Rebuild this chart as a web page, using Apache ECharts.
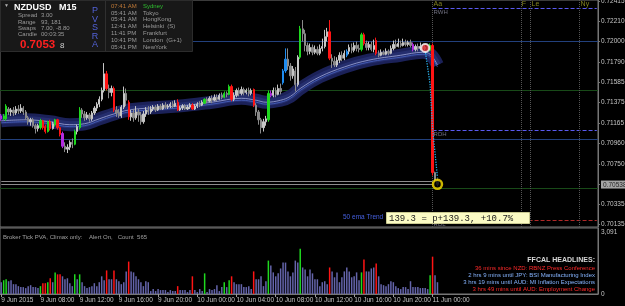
<!DOCTYPE html>
<html>
<head>
<meta charset="utf-8">
<script src="https://cdn.jsdelivr.net/npm/echarts@6/dist/echarts.min.js"></script>
<style>
html, body { margin: 0; padding: 0; background: #000; }
#container { width: 625px; height: 306px; }
</style>
</head>
<body>
<div id="container"></div>
<script>
// prices are in pips (x 0.0001)
var tickLabels = ['9 Jun 2015', '9 Jun 08:00', '9 Jun 12:00', '9 Jun 16:00', '9 Jun 20:00', '10 Jun 00:00',
	'10 Jun 04:00', '10 Jun 08:00', '10 Jun 12:00', '10 Jun 16:00', '10 Jun 20:00', '11 Jun 00:00'];
var priceTicks = [7241.5, 7221.0, 7200.0, 7179.0, 7158.5, 7137.5, 7116.5, 7096.0, 7075.0, 7053.8, 7033.5, 7013.5];
var lastPrice = 7053.8;
var volTicks = [0, 3091];

// [open, close, low, high]
var candles = [
	[7124,7121,7119,7126],[7121,7124,7120,7126],[7121,7134,7119,7136],[7131,7128,7125,7133],[7128,7130,7124,7132],
	[7130,7127,7124,7133],[7127,7131,7125,7134],[7131,7129,7126,7135],[7129,7132,7127,7136],[7132,7128,7125,7134],
	[7128,7122,7120,7130],[7122,7118,7115,7124],[7118,7120,7114,7122],[7120,7114,7112,7122],[7114,7111,7106,7116],
	[7111,7114,7108,7116],[7112,7119,7110,7121],[7119,7112,7110,7120],[7113,7108,7106,7115],[7108,7118,7107,7119],
	[7118,7111,7109,7120],[7111,7116,7110,7118],[7115,7120,7113,7121],[7120,7112,7110,7121],[7112,7105,7103,7113],
	[7106,7093,7091,7108],[7093,7090,7087,7097],[7090,7092,7086,7095],[7092,7097,7089,7099],[7097,7095,7091,7101],
	[7095,7108,7094,7110],[7108,7113,7105,7115],[7112,7130,7110,7133],[7130,7126,7122,7132],[7126,7122,7119,7129],
	[7122,7125,7120,7128],[7125,7121,7118,7127],[7121,7127,7119,7129],[7127,7132,7125,7134],[7132,7136,7129,7138],
	[7136,7141,7133,7144],[7141,7150,7139,7153],[7150,7167,7148,7178],[7167,7152,7150,7170],[7152,7148,7142,7156],
	[7148,7152,7144,7155],[7152,7130,7128,7154],[7130,7127,7123,7134],[7127,7124,7122,7131],[7124,7133,7122,7135],
	[7133,7147,7131,7154],[7147,7140,7134,7152],[7138,7123,7120,7140],[7123,7127,7119,7130],[7127,7122,7118,7131],
	[7122,7128,7120,7134],[7128,7125,7118,7131],[7125,7118,7115,7128],[7118,7126,7116,7129],[7126,7130,7123,7133],
	[7130,7128,7125,7134],[7128,7131,7126,7134],[7131,7133,7129,7135],[7133,7130,7128,7135],[7130,7134,7129,7136],
	[7134,7131,7130,7136],[7131,7135,7130,7137],[7135,7133,7131,7138],[7133,7134,7131,7136],[7134,7136,7132,7138],
	[7136,7134,7132,7139],[7134,7137,7133,7140],[7138,7130,7129,7141],[7130,7132,7129,7134],[7132,7134,7130,7136],
	[7134,7131,7130,7136],[7131,7133,7130,7135],[7133,7135,7131,7137],[7135,7131,7130,7137],[7131,7134,7130,7136],
	[7134,7136,7132,7138],[7136,7135,7133,7139],[7135,7138,7134,7140],[7137,7141,7136,7142],[7141,7139,7137,7143],
	[7139,7142,7138,7144],[7142,7140,7137,7145],[7140,7143,7139,7146],[7143,7141,7139,7146],[7141,7145,7140,7147],
	[7145,7143,7141,7148],[7143,7147,7142,7149],[7147,7146,7143,7149],[7146,7154,7145,7156],[7154,7141,7139,7156],
	[7141,7145,7139,7148],[7145,7150,7143,7152],[7150,7147,7144,7153],[7147,7151,7145,7154],[7151,7148,7145,7153],
	[7148,7150,7146,7152],[7150,7147,7144,7153],[7147,7150,7145,7152],[7151,7135,7133,7152],[7135,7128,7124,7137],
	[7128,7120,7115,7130],[7120,7112,7106,7122],[7112,7118,7108,7121],[7118,7121,7114,7124],[7120,7147,7118,7150],
	[7147,7145,7143,7150],[7145,7150,7143,7153],[7150,7146,7143,7153],[7146,7152,7145,7156],[7152,7149,7146,7157],
	[7158,7170,7156,7172],[7170,7182,7168,7193],[7182,7175,7171,7193],[7175,7165,7160,7178],[7165,7172,7162,7175],
	[7170,7156,7149,7174],[7156,7184,7154,7186],[7184,7213,7182,7216],[7213,7208,7200,7222],[7208,7196,7190,7212],
	[7196,7190,7186,7199],[7190,7194,7187,7198],[7194,7189,7186,7197],[7189,7192,7187,7196],[7192,7188,7186,7195],
	[7188,7193,7186,7197],[7193,7195,7190,7203],[7195,7205,7193,7212],[7205,7210,7200,7214],[7210,7183,7181,7222],
	[7183,7180,7173,7187],[7180,7176,7174,7185],[7176,7181,7174,7184],[7181,7186,7178,7189],[7186,7183,7180,7190],
	[7183,7188,7181,7191],[7186,7190,7184,7192],[7190,7194,7187,7197],[7194,7191,7188,7198],[7191,7196,7189,7199],
	[7196,7193,7190,7200],[7193,7192,7189,7197],[7192,7207,7190,7209],[7207,7198,7196,7209],[7198,7194,7191,7201],
	[7194,7197,7191,7200],[7197,7192,7190,7200],[7192,7196,7189,7202],[7201,7188,7186,7204],[7188,7186,7184,7191],
	[7186,7189,7185,7192],[7189,7187,7186,7191],[7187,7190,7186,7193],[7190,7188,7186,7192],[7188,7193,7187,7196],
	[7193,7197,7191,7201],[7197,7195,7193,7202],[7195,7198,7194,7203],[7198,7196,7194,7201],[7196,7199,7195,7203],
	[7199,7197,7195,7202],[7197,7199,7195,7201],[7199,7196,7194,7202],[7197,7192,7190,7199],[7192,7195,7190,7197],
	[7195,7193,7190,7198],[7193,7195,7191,7199],[7195,7193,7191,7197],[7193,7194,7191,7196],[7194,7192,7190,7196],
	[7191,7196,7190,7198],[7196,7066,7063,7198],[7066,7058,7056,7067],[7058,7054,7052,7060]
];

var volumes = [
	588,686,735,637,686,490,490,392,343,343, 294,392,441,343,343,294,392,539,539,588,
	784,588,1078,980,980,882,735,784,539,392, 980,735,980,588,392,294,343,392,539,392,
	588,882,686,1176,735,735,1176,735,637,490, 588,1127,1617,1127,1078,882,735,588,392,637,
	588,147,245,147,245,196,196,196,98,196, 147,147,392,196,196,196,98,196,882,196,
	98,245,147,1029,98,245,196,245,441,147, 343,588,343,686,882,588,490,490,490,343,
	343,392,245,1127,735,735,882,392,637,1666, 1421,1078,882,1029,1274,1568,1568,1127,882,1078,
	1666,1568,2254,1323,1225,882,1225,1029,735,735, 392,588,637,490,1323,1127,833,1078,588,833,
	1127,1323,1127,833,882,1078,686,1078,1715,1127, 1127,1274,1323,1519,882,490,441,392,490,637,
	588,392,294,245,343,343,245,637,343,343, 343,294,294,294,245,931,1862,931,588
];

// PVSRA bar classes (bar indexes)
var climaxUp = [1, 2, 16, 19, 22, 30, 32, 83, 91, 93, 109, 122, 147, 175];
var climaxDown = [17, 18, 20, 23, 24, 43, 46, 52, 72, 78, 94, 103, 134, 148, 153, 176];
var risingUp = [115, 116, 141];
var risingDown = [0, 25, 110, 168];

// 50 ema trend band, read at a few bars
var emaMid = [[0,7119],[10,7120],[20,7118],[28,7115],[34,7116],[40,7121],[46,7126],[52,7130],[60,7132],[72,7134],
	[86,7138],[98,7142],[104,7140],[108,7138],[114,7140],[118,7144],[122,7152],[130,7164],[140,7174],[150,7181],
	[163,7186],[172,7189],[175,7187],[178,7176]];
var emaLow = [[0,7117],[10,7118],[20,7116],[28,7113],[34,7114],[40,7119],[46,7124],[52,7128],[60,7130],[72,7132],
	[86,7136],[98,7140],[104,7138],[108,7136],[114,7138],[118,7142],[122,7150],[130,7162],[140,7172],[150,7179],
	[163,7184],[172,7187],[175,7185],[178,7174]];

var zigzag = [[173,7191],[175,7156],[176,7111],[178,7061]];
var swingHigh = [173, 7193.5];
var swingLow = [178, 7054];

var blueLevels = [7200, 7100];
var greenLevels = [7150, 7050];
var grayLevels = [7057, 7053.8];
var pivots = [
	{name: 'RWH', value: 7234.0, color: '#5a5af0'},
	{name: 'RDH', value: 7109.3, color: '#5a5af0'},
	{name: 'RDL', value: 7017.7, color: '#b02828'}
];
var sessions = [
	{name: 'Aa', bar: 176},
	{name: 'F', bar: 212},
	{name: 'Le', bar: 216},
	{name: 'Ny', bar: 236}
];

var nSlots = 244;
var lastBar = 176;

var dom = document.getElementById('container');
var myChart = echarts.init(dom);

var cats = [];
for (var i = 0; i < nSlots; i++) {
	cats.push(String(i));
}

function barColor(i, o, c) {
	if (climaxUp.indexOf(i) >= 0) return '#1fd81f';
	if (climaxDown.indexOf(i) >= 0) return '#ff1414';
	if (risingUp.indexOf(i) >= 0) return '#1e8cf0';
	if (risingDown.indexOf(i) >= 0) return '#b42ce0';
	return c >= o ? '#c6c6c6' : '#8a8a8a';
}

var candleData = candles.map(function(r, i) {
	var col = barColor(i, r[0], r[1]);
	return {
		value: r,
		itemStyle: { color: col, color0: col, borderColor: col, borderColor0: col }
	};
});

var volData = volumes.map(function(v, i) {
	var col = '#6464aa';
	if (climaxUp.indexOf(i) >= 0) col = '#1fd81f';
	if (climaxDown.indexOf(i) >= 0) col = '#ff1414';
	return { value: v, itemStyle: { color: col } };
});

var levelLines = [];
blueLevels.forEach(function(v) {
	levelLines.push({ yAxis: v, lineStyle: { color: '#22407c', type: 'solid', width: 1 } });
});
greenLevels.forEach(function(v) {
	levelLines.push({ yAxis: v, lineStyle: { color: '#184a18', type: 'solid', width: 1 } });
});
grayLevels.forEach(function(v) {
	levelLines.push([{ coord: [0, v], lineStyle: { color: '#8c8c8c', type: 'solid', width: 1 } }, { coord: [lastBar, v] }]);
});
pivots.forEach(function(p) {
	levelLines.push([{ coord: [lastBar, p.value], lineStyle: { color: p.color, type: 'dashed', width: 1 } }, { coord: [nSlots - 1, p.value] }]);
});
sessions.forEach(function(s) {
	levelLines.push({ xAxis: s.bar, lineStyle: { color: '#555555', type: 'dotted', width: 1 } });
});

var FONT = '"Liberation Sans", Arial, sans-serif';

function txt(x, y, s, color, size, weight, align, family) {
	return {
		type: 'text',
		x: x,
		y: y,
		z: 100,
		silent: true,
		style: {
			text: s,
			fill: color,
			font: (weight || 'normal') + ' ' + size + 'px ' + (family || FONT),
			align: align || 'left',
			verticalAlign: 'middle'
		}
	};
}

var graphics = [
	{ type: 'rect', z: 99, shape: { x: 0.5, y: 0.5, width: 192, height: 51 }, style: { fill: '#181818', stroke: '#2c2c2c' } },
	{ type: 'line', z: 100, shape: { x1: 105.5, y1: 1, x2: 105.5, y2: 51 }, style: { stroke: '#303030' } },
	txt(4, 6, '\u25BC', '#b0b0b0', 5),
	txt(14, 7.5, 'NZDUSD', '#ffffff', 9, 'bold'),
	txt(59, 7.5, 'M15', '#ffffff', 9, 'bold'),
	txt(18, 15.5, 'Spread', '#9a9a9a', 6),
	txt(41, 15.5, '3.00', '#9a9a9a', 6),
	txt(18, 22, 'Range', '#9a9a9a', 6),
	txt(41, 22, '93, 181', '#9a9a9a', 6),
	txt(18, 28.5, 'Swaps', '#9a9a9a', 6),
	txt(41, 28.5, '7.00, -8.80', '#9a9a9a', 6),
	txt(18, 34.5, 'Candle', '#9a9a9a', 6),
	txt(41, 34.5, '00:03:35', '#9a9a9a', 6),
	txt(20, 44.5, '0.7053', '#ff2020', 11.5, 'bold'),
	txt(60, 46, '8', '#d0d0d0', 8),
	txt(95, 11, 'P', '#5262d8', 9, 'normal', 'center'),
	txt(95, 19.5, 'V', '#5262d8', 9, 'normal', 'center'),
	txt(95, 28, 'S', '#5262d8', 9, 'normal', 'center'),
	txt(95, 36.5, 'R', '#5262d8', 9, 'normal', 'center'),
	txt(95, 44.5, 'A', '#5262d8', 9, 'normal', 'center'),
	txt(111, 6, '07:41 AM', '#c07a38', 6),
	txt(111, 13, '05:41 AM', '#9a9a9a', 6),
	txt(111, 19.8, '05:41 AM', '#9a9a9a', 6),
	txt(111, 26.6, '12:41 AM', '#9a9a9a', 6),
	txt(111, 33.4, '11:41 PM', '#9a9a9a', 6),
	txt(111, 40.2, '10:41 PM', '#9a9a9a', 6),
	txt(111, 47, '05:41 PM', '#9a9a9a', 6),
	txt(143, 6, 'Sydney', '#2fbf2f', 6),
	txt(143, 13, 'Tokyo', '#9a9a9a', 6),
	txt(143, 19.8, 'HongKong', '#9a9a9a', 6),
	txt(143, 26.6, 'Helsinki  (S)', '#9a9a9a', 6),
	txt(143, 33.4, 'Frankfurt', '#9a9a9a', 6),
	txt(143, 40.2, 'London  (G+1)', '#9a9a9a', 6),
	txt(143, 47, 'NewYork', '#9a9a9a', 6),
	txt(343, 217.5, '50 ema Trend', '#4560e0', 6.5),
	{ type: 'rect', z: 99, shape: { x: 386.5, y: 212.5, width: 143, height: 11 }, style: { fill: '#fbfbc4', stroke: '#c8c890' } },
	txt(389, 218.5, '139.3 = p+139.3, +10.7%', '#1a1a1a', 9, 'normal', 'left', '"Liberation Mono", monospace'),
	txt(3, 237, 'Broker Tick PVA, Climax only:    Alert On,   Count  565', '#a0a0a0', 6),
	txt(595, 260, 'FFCAL HEADLINES:', '#d8d8d8', 7, 'bold', 'right'),
	txt(595, 268, '36 mins since NZD: RBNZ Press Conference', '#ff2a2a', 6, 'normal', 'right'),
	txt(595, 275, '2 hrs 9 mins until JPY: BSI Manufacturing Index', '#86b4ff', 6, 'normal', 'right'),
	txt(595, 282, '3 hrs 19 mins until AUD: MI Inflation Expectations', '#86b4ff', 6, 'normal', 'right'),
	txt(595, 289, '3 hrs 49 mins until AUD: Employment Change', '#ff2a2a', 6, 'normal', 'right')
];

function showTick(idx) {
	return idx % 16 === 0 && idx <= lastBar;
}

var option = {
	backgroundColor: '#000000',
	animation: false,
	grid: [{
		left: 0, right: 27, top: 0, height: 227,
		show: true, borderColor: '#767676', borderWidth: 1,
		outerBoundsMode: 'none'
	}, {
		left: 0, right: 27, top: 228, height: 66,
		show: true, borderColor: '#767676', borderWidth: 1,
		outerBoundsMode: 'none'
	}],
	xAxis: [{
		type: 'category',
		gridIndex: 0,
		data: cats,
		boundaryGap: true,
		axisLine: { show: false },
		axisTick: { show: false },
		axisLabel: { show: false },
		splitLine: { show: false }
	}, {
		type: 'category',
		gridIndex: 1,
		data: cats,
		boundaryGap: true,
		axisLine: { show: true, lineStyle: { color: '#767676' } },
		axisTick: { show: true, interval: showTick, alignWithLabel: true, length: 3, lineStyle: { color: '#9a9a9a' } },
		axisLabel: {
			interval: showTick,
			align: 'left',
			margin: 3,
			color: '#c4c4c4',
			fontSize: 6.5,
			fontFamily: FONT,
			formatter: function(value) {
				return tickLabels[parseInt(value, 10) / 16];
			}
		},
		splitLine: { show: false }
	}],
	yAxis: [{
		type: 'value',
		gridIndex: 0,
		position: 'right',
		min: 7010.4,
		max: 7242.5,
		axisLine: { show: true, lineStyle: { color: '#767676' } },
		axisTick: { show: true, customValues: priceTicks, length: 2, lineStyle: { color: '#767676' } },
		axisLabel: {
			customValues: priceTicks,
			margin: 3,
			color: '#c4c4c4',
			fontSize: 6.5,
			fontFamily: FONT,
			formatter: function(v) {
				var s = (v / 10000).toFixed(5);
				if (Math.abs(v - lastPrice) < 0.01) {
					return '{cur|' + s + '}';
				}
				return s;
			},
			rich: {
				cur: { backgroundColor: '#a4a4a4', color: '#262626', fontSize: 6.5, fontFamily: FONT, padding: [1, 2, 0, 2] }
			}
		},
		splitLine: { show: false }
	}, {
		type: 'value',
		gridIndex: 1,
		position: 'right',
		min: 0,
		max: 3291,
		axisLine: { show: true, lineStyle: { color: '#767676' } },
		axisTick: { show: false },
		axisLabel: {
			customValues: volTicks,
			margin: 3,
			color: '#c4c4c4',
			fontSize: 6.5,
			fontFamily: FONT
		},
		splitLine: { show: false }
	}],
	series: [{
		// level / session / pivot lines, kept under everything else
		name: 'levels',
		type: 'line',
		data: [],
		z: 0,
		silent: true,
		markLine: {
			z: 0,
			silent: true,
			symbol: ['none', 'none'],
			label: { show: false },
			data: levelLines
		}
	}, {
		name: 'band',
		type: 'line',
		data: emaMid,
		smooth: 0.4,
		symbol: 'none',
		silent: true,
		z: 1,
		lineStyle: { width: 13, color: '#1b2158' }
	}, {
		name: 'band inner',
		type: 'line',
		data: emaMid,
		smooth: 0.4,
		symbol: 'none',
		silent: true,
		z: 1,
		lineStyle: { width: 7, color: '#252e6e' }
	}, {
		name: '50 ema',
		type: 'line',
		data: emaMid,
		smooth: 0.4,
		symbol: 'none',
		silent: true,
		z: 2,
		lineStyle: { width: 0.8, color: '#a0a8da' }
	}, {
		name: 'ema low',
		type: 'line',
		data: emaLow,
		smooth: 0.4,
		symbol: 'none',
		silent: true,
		z: 2,
		lineStyle: { width: 0.8, color: '#4a66c4' }
	}, {
		name: 'NZDUSD',
		type: 'candlestick',
		data: candleData,
		barWidth: 1.8,
		z: 6
	}, {
		name: 'zigzag',
		type: 'line',
		data: zigzag,
		symbol: 'none',
		silent: true,
		z: 7,
		lineStyle: { width: 1.3, color: '#2aaee8', type: 'dotted' }
	}, {
		name: 'swings',
		type: 'scatter',
		silent: true,
		z: 8,
		data: [{
			value: swingHigh,
			symbolSize: 8,
			itemStyle: { color: '#e02828', borderColor: '#ffffff', borderWidth: 2 }
		}, {
			value: swingLow,
			symbolSize: 9,
			itemStyle: { color: '#000000', borderColor: '#ffe400', borderWidth: 2.5 }
		}]
	}, {
		name: 'tags',
		type: 'scatter',
		silent: true,
		z: 8,
		symbolSize: 0,
		data: pivots.map(function(p) {
			return {
				value: [lastBar, p.value],
				label: { show: true, position: 'right', distance: 1, offset: [0, 4], formatter: p.name, color: '#8c8ca0', fontSize: 6, fontFamily: FONT }
			};
		}).concat(sessions.map(function(s) {
			return {
				value: [s.bar, 7238],
				label: { show: true, position: 'right', distance: 1, formatter: s.name, color: '#a0a028', fontSize: 7, fontFamily: FONT }
			};
		}))
	}, {
		name: 'volume',
		type: 'bar',
		xAxisIndex: 1,
		yAxisIndex: 1,
		data: volData,
		barWidth: 1.5,
		silent: true
	}],
	graphic: graphics
};

myChart.setOption(option, true);
</script>
</body>
</html>
